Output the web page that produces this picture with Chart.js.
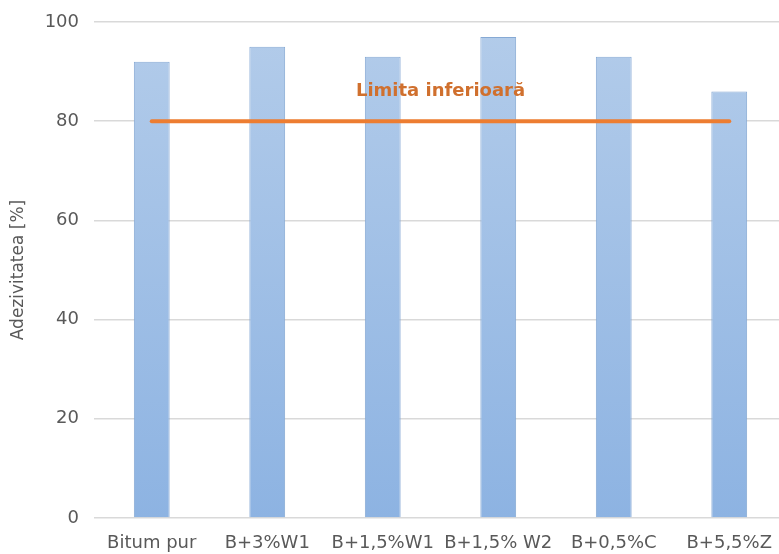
<!DOCTYPE html>
<html>
<head>
<meta charset="utf-8">
<script src="https://cdn.jsdelivr.net/npm/chart.js@4/dist/chart.umd.min.js"></script>
<style>
  html, body { margin: 0; padding: 0; background: #fff; overflow: hidden; }
  .chart-box { width: 787px; height: 554px; }
</style>
</head>
<body>
<div class="chart-box"><canvas id="adezivitateChart"></canvas></div>
<script>
// date
const probe = ['Bitum pur', 'B+3%W1', 'B+1,5%W1', 'B+1,5% W2', 'B+0,5%C', 'B+5,5%Z'];
const adezivitate = [92, 95, 93, 97, 93, 86];
const limitaInferioara = [80, 80, 80, 80, 80, 80];
const limitaText = 'Limita inferioară';
const yTicks = [0, 20, 40, 60, 80, 100];

const gri = '#595959';

function gradientBare(ctx) {
  const area = ctx.chart.chartArea;
  if (!area) return '#9DBDE6';
  const g = ctx.chart.ctx.createLinearGradient(0, area.top, 0, area.bottom);
  g.addColorStop(0, '#B3CCEA');
  g.addColorStop(1, '#8DB3E2');
  return g;
}

// textul "Limita inferioara" deasupra liniei, intre categoriile 3 si 4
const etichetaLimita = {
  id: 'etichetaLimita',
  afterDatasetsDraw(chart) {
    const x = chart.scales.x, y = chart.scales.y;
    const c = chart.ctx;
    const px = (x.getPixelForValue(2) + x.getPixelForValue(3)) / 2;
    const py = y.getPixelForValue(limitaInferioara[0] + 6);
    c.save();
    c.font = 'bold 18px "DejaVu Sans"';
    c.fillStyle = '#D0702E';
    c.textAlign = 'center';
    c.textBaseline = 'middle';
    c.fillText(limitaText, px, py);
    c.restore();
  }
};

new Chart(document.getElementById('adezivitateChart'), {
  data: {
    labels: probe,
    datasets: [
      {
        type: 'line',
        label: limitaText,
        data: limitaInferioara,
        borderColor: '#ED7D31',
        borderWidth: 4,
        borderCapStyle: 'round',
        pointRadius: 0,
        order: 0
      },
      {
        type: 'bar',
        label: 'Adezivitatea',
        data: adezivitate,
        backgroundColor: gradientBare,
        borderColor: '#86A9D4',
        borderWidth: 1,
        barPercentage: 0.31,
        categoryPercentage: 1,
        order: 1
      }
    ]
  },
  options: {
    responsive: true,
    maintainAspectRatio: false,
    animation: false,
    layout: { padding: { top: 22, right: 0, bottom: 0, left: 0 } },
    plugins: {
      legend: { display: false },
      tooltip: { enabled: false }
    },
    scales: {
      x: {
        offset: true,
        grid: { display: false, drawTicks: false },
        border: { display: false },
        ticks: {
          color: gri,
          font: { family: 'DejaVu Sans', size: 18 },
          padding: 15,
          maxRotation: 0,
          autoSkip: false
        },
        afterFit(s) { s.height = 36; s.paddingLeft = 0; s.paddingRight = 0; }
      },
      y: {
        min: 0,
        max: 100,
        afterBuildTicks(s) { s.ticks = yTicks.map(v => ({ value: v })); },
        grid: { color: '#D9D9D9', lineWidth: 1.5, drawTicks: false },
        border: { display: false },
        ticks: {
          color: gri,
          font: { family: 'DejaVu Sans', size: 18 },
          padding: 15
        },
        title: {
          display: true,
          text: 'Adezivitatea [%]',
          color: gri,
          font: { family: 'DejaVu Sans', size: 17 },
          padding: { top: 8, bottom: 0 }
        },
        afterFit(s) { s.width = 94; s.paddingTop = 0; s.paddingBottom = 0; }
      }
    }
  },
  plugins: [etichetaLimita]
});
</script>
</body>
</html>
